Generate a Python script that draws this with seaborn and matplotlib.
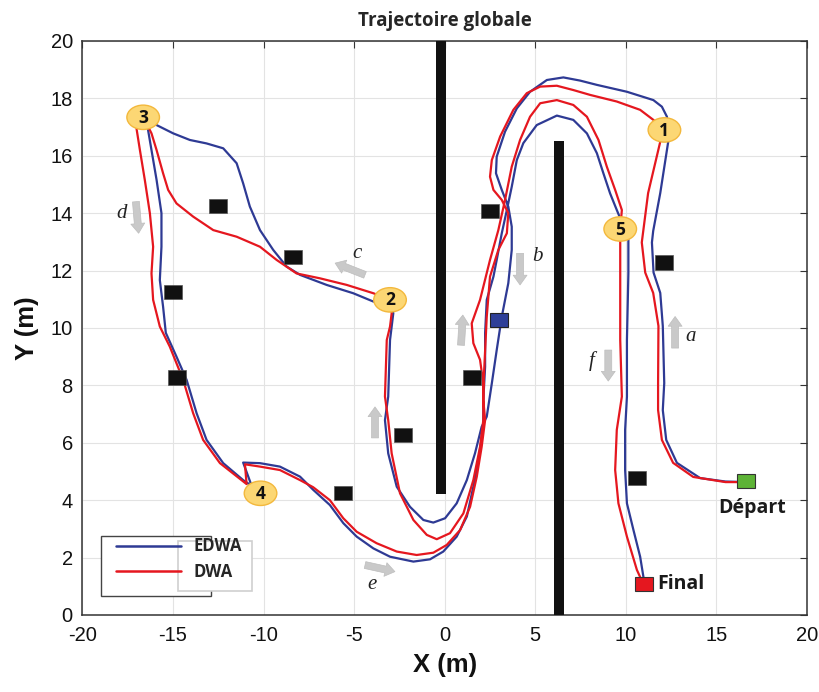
import matplotlib
matplotlib.use("Agg")
import matplotlib.pyplot as plt
import seaborn as sns
import pandas as pd
from matplotlib.patches import Rectangle, Ellipse
from matplotlib.lines import Line2D

# ---------------- data ----------------
edwa_x = [16.65, 15.5, 14.1, 12.82, 12.23, 12.04, 12.12, 12.04, 11.9, 11.53, 11.44, 11.51, 11.9, 12.34, 12.3, 12.27, 11.99,
          11.52, 10.06, 8.4, 7.47, 6.55, 5.64, 4.71, 3.98, 3.33, 2.87, 2.83, 3.15, 3.51, 3.7, 3.7, 3.51, 3.15, 2.87, 2.6, 2.32,
          2.04, 1.67, 1.22, 0.66, 0.02, -0.63, -1.18, -1.92, -2.65, -3.12, -3.3, -3.12, -3.02, -2.84, -3.0,
          -3.94, -5.05, -6.52, -7.99, -8.73, -9.47, -10.2, -10.76, -11.13, -11.49, -12.23, -13.15, -14.07, -14.99, -15.91, -16.5,
          -16.38, -16.19, -15.91, -15.64, -15.64, -15.73, -15.55, -15.4, -14.81, -14.25, -13.7, -13.15, -12.23, -11.13, -10.66,
          -11.13, -10.2, -9.1, -7.99, -7.26, -6.34, -5.6, -4.86, -3.94, -3.02, -1.73, -0.81, -0.08, 0.66, 1.22, 1.58, 1.86, 2.13,
          2.13, 2.23, 2.23, 2.32, 2.69, 2.87, 3.15, 3.43, 3.7, 3.98, 4.34, 5.08, 6.19,
          7.1, 7.85, 8.4, 8.76, 9.13, 9.5, 9.9, 10.14, 10.14, 10.06, 10.06, 10.06, 9.96, 9.96, 10.06, 10.42, 10.79, 10.97, 11.0]
edwa_y = [4.63, 4.65, 4.77, 5.30, 6.10, 7.14, 8.08, 10.07, 11.22, 11.93, 12.98, 13.38, 14.7, 16.49, 16.9, 17.36, 17.71,
          17.94, 18.23, 18.47, 18.62, 18.73, 18.64, 18.23, 17.65, 16.84, 15.97, 15.39, 14.81, 14.23, 13.53, 12.72, 11.56, 10.39, 9.23, 8.07, 6.91,
          6.56, 5.63, 4.7, 3.89, 3.37, 3.22, 3.31, 3.77, 4.47, 5.63, 6.79, 7.61, 9.58, 10.51, 10.98,
          10.92, 11.21, 11.5, 11.85, 12.14, 12.72, 13.41, 14.23, 15.04, 15.74, 16.26, 16.43, 16.55, 16.78, 17.07, 17.3,
          16.9, 16.2, 15.16, 14.0, 12.83, 11.67, 10.74, 9.83, 9.0, 8.19, 7.03, 6.1, 5.29, 4.7, 4.5,
          5.31, 5.29, 5.17, 4.82, 4.36, 3.83, 3.2, 2.73, 2.32, 2.03, 1.86, 1.94, 2.21, 2.73, 3.43, 4.47, 5.4, 6.56,
          7.49, 8.65, 9.82, 10.98, 11.79, 12.37, 13.3, 14.11, 14.92, 15.85, 16.44, 17.07, 17.4,
          17.25, 16.78, 16.09, 15.39, 14.69, 14.11, 13.5, 13.07, 11.9, 9.58, 8.07, 7.61, 6.45, 5.05, 3.89, 2.96, 2.03, 1.33, 1.07]

dwa_x = [16.65, 15.5, 13.72, 12.61, 11.99, 11.78, 11.78, 11.8, 11.51, 11.07, 10.88, 10.96, 11.23, 11.9, 12.1,
         11.52, 10.79, 9.5, 8.03, 7.1, 6.19, 5.27, 4.53, 3.79, 3.06, 2.6, 2.5, 2.69, 3.15, 3.51, 3.43, 2.96, 2.5, 2.32, 2.23, 2.13, 2.13,
         1.95, 1.58, 1.03, 0.29, -0.44, -0.99, -1.73, -2.47, -2.93, -3.12, -3.3, -3.2, -3.02, -2.93, -3.0,
         -3.94, -5.41, -6.89, -8.18, -9.28, -10.2, -11.49, -12.78, -13.89, -14.81, -15.27, -15.55, -15.91, -16.19, -16.6,
         -17.02, -16.83, -16.56, -16.28, -16.1, -16.19, -16.1, -15.73, -15.18, -14.44, -13.89, -13.34, -12.41, -10.94,
         -11.03, -10.2, -9.1, -7.99, -7.26, -6.34, -5.6, -4.86, -3.76, -2.65, -1.55, -0.63, 0.11, 0.85, 1.4, 1.77, 2.04, 2.23,
         2.13, 2.13, 1.95, 1.58, 1.49, 1.95, 2.5, 2.96, 3.33, 3.7, 4.16, 4.71, 5.27, 6.19,
         7.1, 7.85, 8.49, 8.95, 9.41, 9.78, 9.69, 9.69, 9.69, 9.78, 9.5, 9.41, 9.59, 10.06, 10.61, 10.95]
dwa_y = [4.63, 4.63, 4.81, 5.30, 6.10, 7.14, 8.08, 10.07, 11.22, 11.93, 12.98, 13.38, 14.7, 16.49, 16.9,
         17.25, 17.6, 17.89, 18.12, 18.29, 18.44, 18.41, 18.18, 17.6, 16.67, 15.85, 15.27, 14.81, 14.46, 14.0, 13.3, 12.72, 11.79, 10.39, 9.23, 7.9, 6.79,
         5.86, 4.7, 3.54, 2.85, 2.64, 2.79, 3.31, 4.24, 5.63, 6.79, 7.61, 9.58, 10.05, 10.51, 10.98,
         11.21, 11.5, 11.73, 11.9, 12.37, 12.83, 13.18, 13.41, 13.88, 14.34, 14.81, 15.39, 16.2, 16.78, 17.3,
         16.96, 16.2, 15.16, 14.0, 12.83, 11.9, 10.98, 10.05, 9.35, 8.19, 7.03, 6.1, 5.29, 4.56,
         5.25, 5.17, 5.05, 4.7, 4.45, 4.0, 3.37, 2.9, 2.5, 2.21, 2.09, 2.17, 2.44, 2.96, 3.77, 4.82, 5.86, 6.79,
         7.49, 8.07, 8.89, 9.47, 10.16, 10.98, 12.37, 13.41, 14.46, 15.62, 16.55, 17.36, 17.83, 17.94,
         17.77, 17.36, 16.55, 15.62, 14.81, 14.11, 13.45, 13.07, 9.58, 7.61, 6.45, 5.05, 3.89, 2.73, 1.57, 1.1]

wall_x = [-0.2, 6.3]
wall_y0 = [4.2, 0.0]
wall_y1 = [20.0, 16.5]

obs_x = [-12.5, -8.4, -15.0, -14.8, -5.6, -2.3, 2.5, 1.5, 12.1, 10.6]
obs_y = [14.25, 12.47, 11.26, 8.27, 4.26, 6.26, 14.07, 8.27, 12.28, 4.77]
blue_obs = (3.0, 10.28)
start_xy = (16.65, 4.67)
final_xy = (11.0, 1.07)

wp_labels = ["1", "2", "3", "4", "5"]
wp_x = [12.13, -3.02, -16.65, -10.17, 9.69]
wp_y = [16.9, 10.98, 17.34, 4.24, 13.45]

arrow_x0 = [12.72, 4.16, -4.4, -17.05, -4.4, 9.03, 0.9, -3.85]
arrow_y0 = [9.3, 12.6, 11.85, 14.4, 1.74, 9.23, 9.4, 6.17]
arrow_x1 = [12.72, 4.16, -6.05, -16.9, -2.75, 9.03, 1.0, -3.85]
arrow_y1 = [10.4, 11.5, 12.26, 13.3, 1.51, 8.15, 10.45, 7.25]
letter_txt = ["a", "b", "c", "d", "e", "f"]
letter_x = [13.6, 5.1, -4.86, -17.85, -4.03, 8.1]
letter_y = [9.7, 12.5, 12.6, 14.0, 1.05, 8.85]

xticks = [-20, -15, -10, -5, 0, 5, 10, 15, 20]
yticks = [0, 2, 4, 6, 8, 10, 12, 14, 16, 18, 20]

# ---------------- style ----------------
sns.set_style("white")
plt.rcParams['font.family'] = ['Liberation Sans', 'DejaVu Sans']

BLUE = '#2E3A94'
RED = '#E5171F'

fig = plt.figure(figsize=(8.2, 6.92), dpi=100)
ax = fig.add_axes([0.1006, 0.1113, 0.8835, 0.8295])

df = pd.concat([
    pd.DataFrame({'x': edwa_x, 'y': edwa_y, 'méthode': 'EDWA'}),
    pd.DataFrame({'x': dwa_x, 'y': dwa_y, 'méthode': 'DWA'}),
])
sns.lineplot(data=df, x='x', y='y', hue='méthode', units='méthode', estimator=None, sort=False,
             palette={'EDWA': BLUE, 'DWA': RED}, linewidth=1.6, ax=ax, legend=False, zorder=3)
for ln in ax.lines:
    ln.set_solid_joinstyle('round')
    ln.set_solid_capstyle('round')

# walls
for wx, y0, y1 in zip(wall_x, wall_y0, wall_y1):
    ax.add_patch(Rectangle((wx - 0.27, y0), 0.54, y1 - y0, facecolor='#111111', edgecolor='none', zorder=4))

# obstacles
W, H = 1.0, 0.5
for ox, oy in zip(obs_x, obs_y):
    ax.add_patch(Rectangle((ox - W / 2, oy - H / 2), W, H, facecolor='#111111', edgecolor='#555555', lw=0.5, zorder=4))
ax.add_patch(Rectangle((blue_obs[0] - W / 2, blue_obs[1] - H / 2), W, H, facecolor='#2E3F98', edgecolor='#222', lw=0.8, zorder=4))
ax.add_patch(Rectangle((start_xy[0] - W / 2, start_xy[1] - H / 2), W, H, facecolor='#5DB336', edgecolor='#333', lw=0.8, zorder=5))
ax.add_patch(Rectangle((final_xy[0] - W / 2, final_xy[1] - H / 2), W, H, facecolor='#E5171F', edgecolor='#333', lw=0.8, zorder=5))

lab_font = dict(family=['Open Sans', 'DejaVu Sans'], fontweight='bold', fontsize=14, color='#1a1a1a')
ax.text(start_xy[0] + 0.3, start_xy[1] - 0.95, 'Départ', ha='center', va='center', zorder=6, **lab_font)
ax.text(final_xy[0] + 0.75, final_xy[1], 'Final', ha='left', va='center', zorder=6, **lab_font)

# waypoints
for t, px, py in zip(wp_labels, wp_x, wp_y):
    ax.add_patch(Ellipse((px, py), 1.8, 0.85, facecolor='#FCD774', edgecolor='#F3B83C', lw=1.0, zorder=6))
    ax.text(px, py - 0.02, t, ha='center', va='center', zorder=7,
            family=['Open Sans', 'DejaVu Sans'], fontweight='bold', fontsize=12.5, color='#111111')

# direction arrows
for x0, y0, x1, y1 in zip(arrow_x0, arrow_y0, arrow_x1, arrow_y1):
    ax.annotate('', xy=(x1, y1), xytext=(x0, y0),
                arrowprops=dict(arrowstyle='simple,head_length=0.7,head_width=1.0,tail_width=0.5',
                                facecolor='#C9C9C9', edgecolor='#BDBDBD', lw=0.5,
                                shrinkA=0, shrinkB=0, mutation_scale=10), zorder=5)
for t, lx, ly in zip(letter_txt, letter_x, letter_y):
    ax.text(lx, ly, t, ha='center', va='center', fontsize=15, style='italic',
            family=['Liberation Serif', 'DejaVu Serif'], color='#222222', zorder=6)

# axes
ax.set_xlim(-20, 20)
ax.set_ylim(0, 20)
ax.set_xticks(xticks)
ax.set_yticks(yticks)
ax.set_xticklabels([str(v) for v in xticks])
ax.set_yticklabels([str(v) for v in yticks])
ax.grid(True, color='#E3E3E3', lw=0.8, zorder=0)
ax.set_axisbelow(True)
ax.tick_params(direction='in', length=5, width=0.8, colors='#333333', labelsize=14.5,
               top=True, right=True, pad=7)
ax.tick_params(axis='x', pad=8)
for lbl in ax.get_xticklabels() + ax.get_yticklabels():
    lbl.set_color('#111111')
for s in ax.spines.values():
    s.set_color('#333333')
    s.set_linewidth(1.1)

ax.set_xlabel('X (m)', fontsize=18.5, fontweight='bold', labelpad=6, color='#111111')
ax.set_ylabel('Y (m)', fontsize=18.5, fontweight='bold', labelpad=8, color='#111111')
ax.set_title('Trajectoire globale', fontsize=13.5, fontweight='bold', pad=11,
             family=['Open Sans', 'DejaVu Sans'])

# legend
ax.add_patch(Rectangle((0.0251, 0.0331), 0.152, 0.105, transform=ax.transAxes,
                       facecolor='white', edgecolor='#444444', lw=1.0, zorder=8))
ax.add_patch(Rectangle((0.132, 0.0423), 0.1015, 0.0867, transform=ax.transAxes,
                       facecolor='white', edgecolor='#CFCFCF', lw=1.2, zorder=8))
handles = [Line2D([], [], color=BLUE, lw=1.8), Line2D([], [], color=RED, lw=1.8)]
leg = ax.legend(handles, ['EDWA', 'DWA'], loc='lower left', bbox_to_anchor=(0.0251, 0.0331),
                frameon=False, handlelength=3.9, handletextpad=0.75, labelspacing=0.45,
                borderpad=0.4, prop=dict(family=['Open Sans', 'DejaVu Sans'], weight='bold', size=12))
leg.set_zorder(9)

fig.savefig('out.png', dpi=100)
